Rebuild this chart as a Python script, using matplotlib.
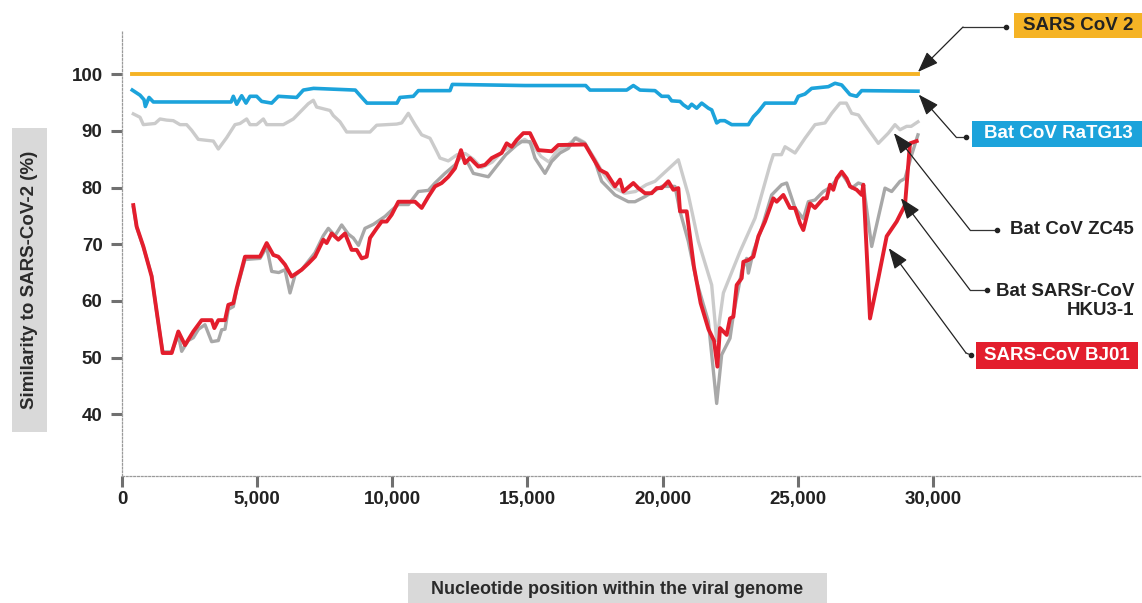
import matplotlib
matplotlib.use('Agg')
import matplotlib.pyplot as plt
from matplotlib.lines import Line2D
from matplotlib.patches import Rectangle

plt.rcParams['font.family'] = ['Liberation Sans', 'DejaVu Sans']

#%% Similarity values (sliding window along the genome)
sars2_pos = [380, 29450]
sars2_sim = [100, 100]

ratg13_pos = [380, 667, 815, 864, 1000, 1160, 4037, 4119, 4243, 4428, 4588, 4736, 4983,
              5168, 5538, 5784, 6463, 6709, 7087, 8631, 8816, 9063, 10174, 10286, 10780,
              10964, 12136, 12222, 14900, 17157, 17316, 18673, 18920, 19166, 19721, 19968,
              20214, 20338, 20646, 20769, 20954, 21078, 21263, 21449, 21696, 21819, 22004,
              22127, 22300, 22559, 23176, 23361, 23545, 23791, 24901, 25024, 25270, 25518,
              26134, 26381, 26628, 26936, 27183, 27368, 29450]
ratg13_sim = [97.2, 96.3, 95.5, 94.3, 95.9, 95.1, 95.1, 96.1, 94.7, 96.2, 94.9, 96.1, 96.1,
              95.2, 94.9, 96.1, 95.9, 97.2, 97.5, 97.2, 96.2, 94.9, 94.9, 95.9, 96.1,
              97.1, 97.1, 98.2, 98.0, 98.0, 97.2, 97.2, 98.0, 97.2, 97.1, 96.1,
              96.1, 95.3, 95.2, 94.6, 94.0, 94.7, 94.0, 94.9, 94.0, 93.7, 91.4,
              91.8, 91.8, 91.1, 91.1, 92.5, 93.4, 94.9, 94.9, 96.1, 96.5, 97.5,
              97.8, 98.4, 98.1, 96.4, 96.1, 97.1, 97.0]

zc45_pos = [419, 667, 790, 1221, 1406, 1652, 1899, 2146, 2392, 2577, 2824, 3379, 3564, 3872,
            4181, 4366, 4613, 4736, 4983, 5230, 5353, 5969, 6339, 6709, 6894, 7079, 7202,
            7696, 7819, 8066, 8313, 9176, 9423, 10163, 10348, 10594, 10841, 11088, 11396,
            11643, 11766, 12074, 12400, 12700, 13000, 13300, 13700, 14100, 14500, 14900,
            15200, 15500, 15800, 16100, 16500, 16800, 17100, 17500, 17800, 18200, 18600,
            19000, 19400, 19721, 20584, 20954, 21326, 21819, 22004, 22251, 22867, 23422,
            23977, 24100, 24400, 24532, 24902, 25272, 25642, 26012, 26259, 26565, 26800,
            26998, 27250, 27491, 27984, 28354, 28601, 28786, 29033, 29200, 29450]
zc45_sim = [93.0, 92.4, 91.1, 91.3, 92.1, 91.9, 91.8, 91.1, 91.1, 90.1, 88.5, 88.2, 86.8, 88.8,
            91.1, 91.3, 92.1, 91.1, 91.1, 92.1, 91.1, 91.1, 92.1, 93.9, 94.8, 95.4, 94.2,
            93.6, 92.7, 91.6, 89.8, 89.8, 91.0, 91.2, 91.4, 93.1, 91.1, 89.3, 88.7,
            86.4, 85.2, 84.7, 85.8, 86.0, 85.0, 83.5, 84.5, 86.5, 87.5, 88.5,
            87.5, 85.5, 84.5, 86.5, 87.5, 88.8, 88.0, 85.0, 82.5, 80.0, 79.0,
            79.3, 80.5, 81.1, 84.9, 78.7, 70.5, 62.8, 53.0, 61.4, 68.7, 74.6,
            84.0, 85.8, 85.8, 87.2, 86.1, 88.7, 91.1, 91.4, 93.1, 94.9, 94.9,
            93.1, 92.8, 91.1, 87.8, 89.6, 91.1, 90.2, 90.8, 90.8, 91.6]

hku3_pos = [419, 543, 790, 1097, 1283, 1505, 1838, 2084, 2208, 2450, 2639, 2830, 3070, 3317,
            3564, 3688, 3811, 3934, 4119, 4243, 4551, 5106, 5353, 5538, 5800, 6031, 6216,
            6400, 6648, 6894, 7141, 7449, 7634, 7880, 8128, 8370, 8560, 8750, 8991, 9300,
            9731, 9978, 10225, 10600, 10964, 11335, 11581, 11950, 12321, 12543, 12800,
            13000, 13554, 13900, 14200, 14600, 14788, 15096, 15281, 15651, 15898, 16206,
            16513, 16760, 17131, 17501, 17747, 18241, 18734, 18980, 19351, 19968, 20460,
            20646, 20954, 21262, 21694, 22003, 22188, 22496, 22620, 22928, 23113, 23175,
            23360, 23668, 24038, 24408, 24593, 24901, 25209, 25394, 25641, 25949, 26196,
            26628, 26998, 27245, 27430, 27738, 28231, 28478, 28786, 28971, 29200, 29450]
hku3_sim = [76.5, 73.0, 69.5, 64.5, 58.0, 51.0, 51.0, 54.0, 51.1, 53.0, 53.5, 55.0, 55.8, 52.8,
            53.0, 54.9, 55.0, 58.5, 59.0, 62.0, 67.3, 67.5, 69.5, 65.2, 65.0, 65.5, 61.4,
            64.5, 65.5, 67.0, 68.5, 71.5, 72.8, 71.5, 73.4, 71.8, 71.1, 69.8, 72.8, 73.5,
            74.9, 76.0, 77.0, 77.0, 79.3, 79.5, 80.8, 82.5, 84.0, 85.5, 84.3,
            82.5, 81.9, 84.0, 85.8, 87.5, 88.1, 88.1, 85.2, 82.5, 84.6, 86.1,
            86.9, 88.7, 87.8, 84.6, 81.1, 78.7, 77.5, 77.5, 78.4, 80.2, 80.2,
            75.8, 70.5, 63.4, 56.4, 41.9, 50.5, 53.4, 57.5, 65.2, 67.5, 64.9,
            68.7, 72.8, 78.7, 80.5, 80.8, 76.4, 74.5, 77.5, 77.8, 79.3, 80.0,
            82.5, 79.9, 80.8, 80.5, 69.6, 79.9, 79.3, 81.1, 81.6, 85.5, 89.3]

bj01_pos = [419, 543, 790, 1097, 1283, 1505, 1838, 2084, 2331, 2639, 2947, 3317, 3416, 3564,
            3811, 3934, 4119, 4243, 4551, 5106, 5353, 5599, 5784, 6031, 6278, 6463, 6648,
            6894, 7141, 7449, 7572, 7757, 8004, 8251, 8498, 8683, 8868, 9053, 9176, 9423,
            9608, 9793, 9978, 10225, 10841, 11088, 11335, 11581, 11828, 12074, 12321, 12543,
            12691, 12876, 13184, 13431, 13678, 13924, 14047, 14233, 14418, 14603, 14850,
            15096, 15404, 15898, 16144, 17131, 17501, 17686, 17933, 18241, 18426, 18549,
            18920, 19105, 19351, 19598, 19783, 19968, 20214, 20399, 20584, 20646, 20893,
            21162, 21410, 21700, 21903, 22030, 22126, 22373, 22496, 22620, 22743, 22928,
            22990, 23175, 23360, 23545, 23791, 24100, 24223, 24470, 24716, 24901, 25086,
            25209, 25456, 25641, 25949, 26072, 26196, 26319, 26443, 26628, 26813, 26936,
            27183, 27368, 27430, 27676, 27984, 28293, 28663, 28971, 29156, 29403]
bj01_sim = [76.9, 73.1, 69.6, 64.3, 58.1, 50.8, 50.8, 54.6, 52.2, 54.6, 56.6, 56.6, 55.2, 56.6,
            56.6, 59.3, 59.6, 62.2, 67.8, 67.8, 70.2, 68.1, 67.8, 66.4, 64.3, 64.9, 65.5,
            66.6, 67.8, 70.8, 70.2, 71.9, 70.8, 71.9, 69.0, 69.0, 67.5, 67.8, 71.1, 72.8,
            74.0, 74.0, 75.2, 77.5, 77.5, 76.4, 78.4, 80.2, 80.8, 81.9, 83.4, 86.6,
            84.3, 85.2, 83.7, 84.0, 85.2, 85.8, 86.1, 87.8, 87.2, 88.4, 89.6,
            89.6, 86.6, 86.4, 87.5, 87.6, 84.6, 83.1, 82.5, 80.2, 81.4, 79.3,
            80.8, 79.9, 79.0, 79.0, 79.9, 79.9, 81.1, 79.6, 79.9, 75.8, 75.8,
            66.0, 59.6, 55.0, 53.0, 48.4, 55.2, 54.0, 56.9, 57.2, 62.8, 64.0,
            66.9, 67.2, 67.8, 71.4, 74.0, 78.1, 77.5, 78.7, 76.4, 76.4, 73.7,
            72.5, 77.2, 76.4, 78.1, 78.1, 80.5, 79.6, 81.6, 82.8, 81.6, 80.2,
            79.6, 78.7, 80.5, 56.9, 64.0, 71.4, 74.0, 76.9, 87.8, 88.2]

x_ticks = [0, 5000, 10000, 15000, 20000, 25000, 30000]
x_ticklabels = ['0', '5,000', '10,000', '15,000', '20,000', '25,000', '30,000']
y_ticks = [40, 50, 60, 70, 80, 90, 100]

W, H = 1142, 603

def fp(x, y):
    # image pixel (from top-left) -> figure fraction
    return (x / W, 1 - y / H)

#%% Plot
fig = plt.figure(figsize=(W / 100, H / 100), dpi=100)
ax = fig.add_axes([122 / W, 1 - 476 / H, 1 - 122 / W, (476 - 30) / H])

ax.plot(zc45_pos, zc45_sim, color='#cbcbcb', lw=2.4, solid_joinstyle='round', zorder=2)
ax.plot(hku3_pos, hku3_sim, color='#a8a8a8', lw=2.4, solid_joinstyle='round', zorder=3)
ax.plot(bj01_pos, bj01_sim, color='#e31e2d', lw=2.8, solid_joinstyle='round', zorder=4)
ax.plot(ratg13_pos, ratg13_sim, color='#1ca3db', lw=2.6, solid_joinstyle='round', zorder=5)
ax.plot(sars2_pos, sars2_sim, color='#f5b325', lw=2.8, zorder=6)

ax.set_xlim(0, 37740)
ax.set_ylim(29.1, 107.8)
ax.set_xticks(x_ticks)
ax.set_xticklabels(x_ticklabels)
ax.set_yticks(y_ticks)
ax.tick_params(axis='both', direction='out', length=8, width=2.2, color='#707070',
               labelsize=13.5, labelcolor='#222222')
ax.tick_params(axis='x', pad=3)
ax.tick_params(axis='y', pad=6)
for lab in ax.get_xticklabels() + ax.get_yticklabels():
    lab.set_fontweight('bold')

for side in ['top', 'right']:
    ax.spines[side].set_visible(False)
for side in ['left', 'bottom']:
    ax.spines[side].set_linestyle((0, (1.5, 1.5)))
    ax.spines[side].set_color('#9a9a9a')
    ax.spines[side].set_linewidth(0.9)

#%% Axis titles in grey boxes
fig.add_artist(Rectangle(fp(12, 432), 35 / W, 304 / H, transform=fig.transFigure,
                         facecolor='#d9d9d9', edgecolor='none'))
fig.text(*fp(30, 280), 'Similarity to SARS-CoV-2 (%)', rotation=90, ha='center', va='center',
         fontsize=13.5, fontweight='bold', color='#2a2a2a')
fig.add_artist(Rectangle(fp(408, 610), 419 / W, 37 / H, transform=fig.transFigure,
                         facecolor='#d9d9d9', edgecolor='none'))
fig.text(*fp(617, 590), 'Nucleotide position within the viral genome', ha='center', va='center',
         fontsize=13, fontweight='bold', color='#2a2a2a')

#%% Series labels with leader arrows
labels = [
    # text, text color, box (x0, y0, x1, y1) or None, text anchor, dot, corner, arrow tip (data)
    ('SARS CoV 2', '#222222', (1014, 13, 1142, 38), (1133, 26), (1006, 27), (963, 27), (29450, 100.4)),
    ('Bat CoV RaTG13', 'white', (972, 121, 1142, 147), (1133, 134), (966, 137), (956, 137), (29480, 96.4)),
    ('Bat CoV ZC45', '#222222', None, (1134, 230), (997, 230), (970, 230), (28560, 89.6)),
    ('Bat SARSr-CoV\nHKU3-1', '#222222', None, (1134, 301), (987, 290), (970, 290), (28820, 78.1)),
    ('SARS-CoV BJ01', 'white', (976, 342, 1138, 369), (1130, 356), (971, 355), (966, 353), (28370, 69.3)),
]
box_colors = ['#f5b325', '#1ca3db', None, None, '#e31e2d']

for (txt, tcol, box, anchor, dot, corner, tip), bcol in zip(labels, box_colors):
    if box is not None:
        x0, y0, x1, y1 = box
        fig.add_artist(Rectangle(fp(x0, y1), (x1 - x0) / W, (y1 - y0) / H,
                                 transform=fig.transFigure, facecolor=bcol, edgecolor='none'))
    fig.text(*fp(*anchor), txt, ha='right', va='center', ma='right', fontsize=13.5,
             fontweight='bold', color=tcol, linespacing=1.1)
    fig.add_artist(Line2D([fp(*dot)[0], fp(*corner)[0]], [fp(*dot)[1], fp(*corner)[1]],
                          transform=fig.transFigure, color='#333333', lw=0.9))
    fig.add_artist(Line2D([fp(*dot)[0]], [fp(*dot)[1]], transform=fig.transFigure,
                          marker='o', markersize=3, color='#222222', lw=0))
    ax.annotate('', xy=tip, xycoords='data', xytext=fp(*corner), textcoords='figure fraction',
                arrowprops=dict(arrowstyle='-|>,head_length=0.8,head_width=0.3', color='#222222',
                                lw=0.9, shrinkA=0, shrinkB=0, mutation_scale=16),
                annotation_clip=False, zorder=10)

fig.savefig('out.png', dpi=100)
